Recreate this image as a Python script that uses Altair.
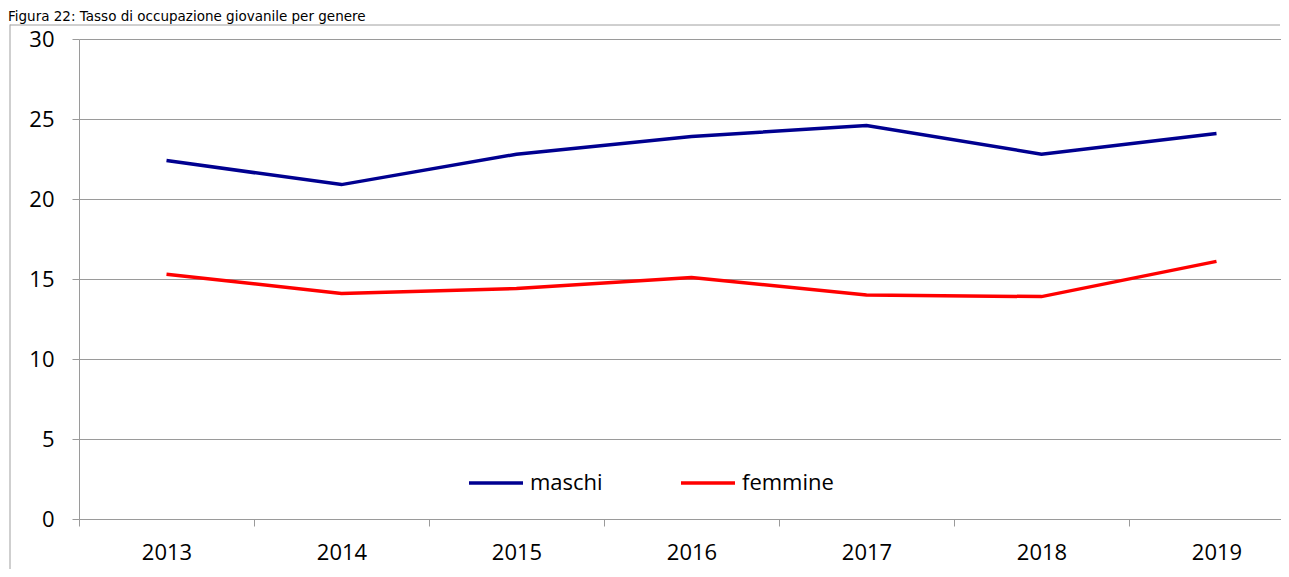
import altair as alt
import pandas as pd

years = ["2013", "2014", "2015", "2016", "2017", "2018", "2019"]
maschi = [22.4, 20.9, 22.8, 23.9, 24.6, 22.8, 24.1]
femmine = [15.3, 14.1, 14.4, 15.1, 14.0, 13.9, 16.1]
series_names = ["maschi", "femmine"]
series_colors = ["#000090", "#FF0000"]
title_text = "Figura 22: Tasso di occupazione giovanile per genere"

rows = []
for name, vals in zip(series_names, [maschi, femmine]):
    for y, v in zip(years, vals):
        rows.append({"anno": y, "valore": v, "serie": name})
df = pd.DataFrame(rows)

FONT = "Open Sans"
W, H = 1202, 480
XR = 1225

lines = alt.Chart(df).mark_line(strokeWidth=3.5).encode(
    x=alt.X(
        "anno:N",
        sort=years,
        scale=alt.Scale(paddingInner=0, paddingOuter=0, range=[0, XR]),
        axis=alt.Axis(
            title=None,
            labelAngle=0,
            labelFont=FONT,
            labelFontSize=22,
            labelColor="#000000",
            labelPadding=16,
            tickBand="extent",
            tickSize=7,
            tickColor="#9a9a9a",
            domainColor="#9a9a9a",
            grid=False,
        ),
    ),
    y=alt.Y(
        "valore:Q",
        scale=alt.Scale(domain=[0, 30], nice=False, zero=True),
        axis=alt.Axis(
            title=None,
            values=[0, 5, 10, 15, 20, 25, 30],
            labelFont=FONT,
            labelFontSize=22,
            labelColor="#000000",
            labelPadding=18,
            tickSize=7,
            tickColor="#9a9a9a",
            domainColor="#9a9a9a",
            grid=True,
            gridColor="#9a9a9a",
            gridWidth=1,
        ),
    ),
    color=alt.Color(
        "serie:N",
        scale=alt.Scale(domain=series_names, range=series_colors),
        legend=alt.Legend(
            title=None,
            orient="none",
            legendX=388,
            legendY=415,
            direction="horizontal",
            symbolType="stroke",
            symbolSize=2916,
            symbolStrokeWidth=3.5,
            labelFont=FONT,
            labelFontSize=22,
            labelColor="#000000",
            labelOffset=5,
            columnPadding=71,
        ),
    ),
)

one = pd.DataFrame({"t": [title_text]})

border_left = alt.Chart(one).mark_rect(fill="#a0a0a0", stroke=None).encode(
    x=alt.value(-69.5), x2=alt.value(-68.5), y=alt.value(-14.5), y2=alt.value(H + 50),
)
border_top = alt.Chart(one).mark_rule(color="#a0a0a0", strokeWidth=1).encode(
    x=alt.value(-69), x2=alt.value(W - 1), y=alt.value(-14),
)

title = alt.Chart(one).mark_text(
    align="left", baseline="alphabetic", font="DejaVu Sans", fontSize=13.5, color="#000000"
).encode(
    x=alt.value(-71), y=alt.value(-18), text="t:N"
)

chart = alt.layer(border_left, border_top, lines, title).properties(
    width=W,
    height=H,
    autosize=alt.AutoSizeParams(type="none"),
    padding={"left": 71, "top": 31, "right": 0, "bottom": 50},
).configure_view(strokeWidth=0, stroke="transparent")

chart.save("out.html", embed_options={"renderer": "svg", "actions": False})
